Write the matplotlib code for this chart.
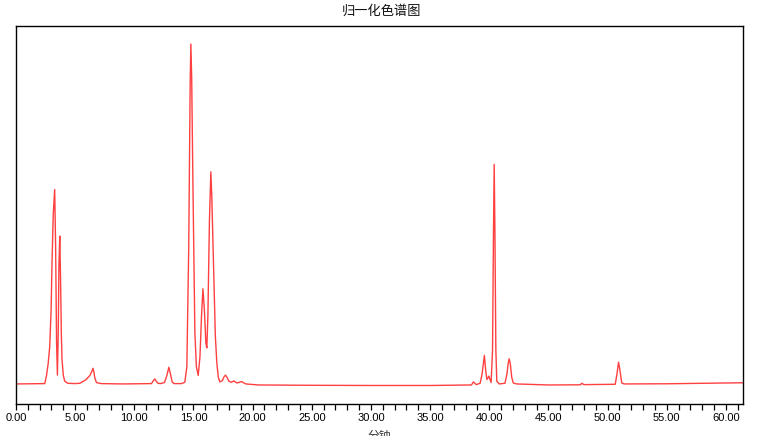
import matplotlib
matplotlib.use("Agg")
import matplotlib.pyplot as plt
from matplotlib.ticker import MultipleLocator, FormatStrFormatter

# Retention time (min) and normalized signal
rt = [0.0, 1.5, 2.43, 2.57, 2.72, 2.85, 2.97, 3.05, 3.15, 3.27, 3.35, 3.43, 3.50,
      3.57, 3.63, 3.70, 3.77, 3.83, 3.89, 4.0, 4.12, 4.37, 5.0, 5.39, 5.9, 6.25,
      6.42, 6.51, 6.59, 6.66, 6.80, 7.2, 9.0, 11.45, 11.6, 11.73, 11.85, 12.0,
      12.2, 12.55, 12.75, 12.92, 13.05, 13.2, 13.35, 14.0, 14.27, 14.44, 14.6,
      14.72, 14.78, 14.85, 14.95, 15.12, 15.25, 15.4, 15.55, 15.68, 15.8, 15.92,
      16.05, 16.13, 16.22, 16.35, 16.47, 16.55, 16.73, 16.85, 16.98, 17.1, 17.23,
      17.45, 17.6, 17.72, 17.85, 18.0, 18.17, 18.3, 18.43, 18.55, 18.67, 18.9,
      19.07, 19.25, 19.43, 20.5, 25.0, 30.0, 35.0, 38.5, 38.66, 38.9, 39.23,
      39.4, 39.59, 39.7, 39.80, 39.9, 39.97, 40.05, 40.16, 40.28, 40.36, 40.42,
      40.48, 40.56, 40.64, 40.84, 41.33, 41.5, 41.6, 41.68, 41.78, 41.9, 42.03,
      42.3, 45.0, 47.7, 47.83, 48.0, 50.65, 50.8, 50.93, 51.05, 51.2, 51.4,
      55.0, 58.0, 61.45]
signal = [0.0, 0.05, 0.1, 2.3, 6.0, 11.0, 22.0, 36.6, 50.0, 57.2, 40.0, 12.0, 2.6,
          15.0, 35.0, 43.5, 30.0, 15.0, 7.2, 2.5, 0.8, 0.2, 0.1, 0.2, 1.2, 2.5,
          3.8, 4.6, 3.4, 1.8, 0.4, 0.1, 0.0, 0.1, 0.9, 1.5, 0.8, 0.2,
          0.1, 0.4, 2.5, 4.9, 3.0, 0.6, 0.1, 0.1, 0.5, 5.0, 40.0,
          88.0, 100.0, 90.0, 60.0, 15.0, 5.0, 2.5, 8.0, 20.0, 28.0, 22.0,
          12.0, 10.6, 20.0, 48.0, 62.4, 55.0, 30.0, 14.0, 6.0, 2.0, 0.6,
          1.0, 2.2, 2.6, 1.8, 0.8, 0.5, 0.7, 0.9, 0.5, 0.3, 0.5,
          0.7, 0.3, 0.0, -0.3, -0.4, -0.45, -0.45, -0.3, 0.6, -0.2, 0.2,
          3.0, 8.4, 4.0, 1.3, 1.8, 2.3, 1.5, 0.4, 10.0, 45.0, 64.6,
          45.0, 10.0, 0.8, 0.0, 0.2, 3.0, 6.0, 7.4, 6.0, 2.0, 0.3,
          0.0, -0.3, -0.25, 0.2, -0.2, -0.1, 3.0, 6.4, 4.0, 0.3, 0.0,
          0.05, 0.2, 0.35]

title_text = "归一化色谱图"
xlabel_text = "分钟"

plt.rcParams['font.family'] = ['Liberation Sans', 'Noto Sans CJK SC', 'DejaVu Sans']

W, H = 759, 436
fig = plt.figure(figsize=(W / 100, H / 100), dpi=100)
ax = fig.add_axes([16 / W, (H - 404) / H, (743 - 16) / W, (404 - 26) / H])

ax.plot(rt, signal, color='#ff2b2b', lw=1.0, alpha=0.9)

ax.set_xlim(0, 61.45)
ax.set_ylim(-5.9, 105.3)

ax.xaxis.set_major_locator(MultipleLocator(5))
ax.xaxis.set_minor_locator(MultipleLocator(1))
ax.xaxis.set_major_formatter(FormatStrFormatter('%.2f'))
ax.tick_params(axis='x', which='both', direction='out', length=4, width=0.9,
               color='black', labelsize=8, pad=2.5, labelcolor='black')
ax.tick_params(axis='y', left=False, labelleft=False)
for s in ax.spines.values():
    s.set_color('black')
    s.set_linewidth(1.0)

fig.text(381.5 / W, 1 - 11 / H, title_text, ha='center', va='center',
         fontsize=9.5, family=['Noto Sans CJK SC', 'DejaVu Sans'], color='#111111')
fig.text(379 / W, 1 - 430 / H, xlabel_text, ha='center', va='top',
         fontsize=8.5, family=['Noto Sans CJK SC', 'DejaVu Sans'], color='#333333')

fig.savefig('out.png', dpi=100)
